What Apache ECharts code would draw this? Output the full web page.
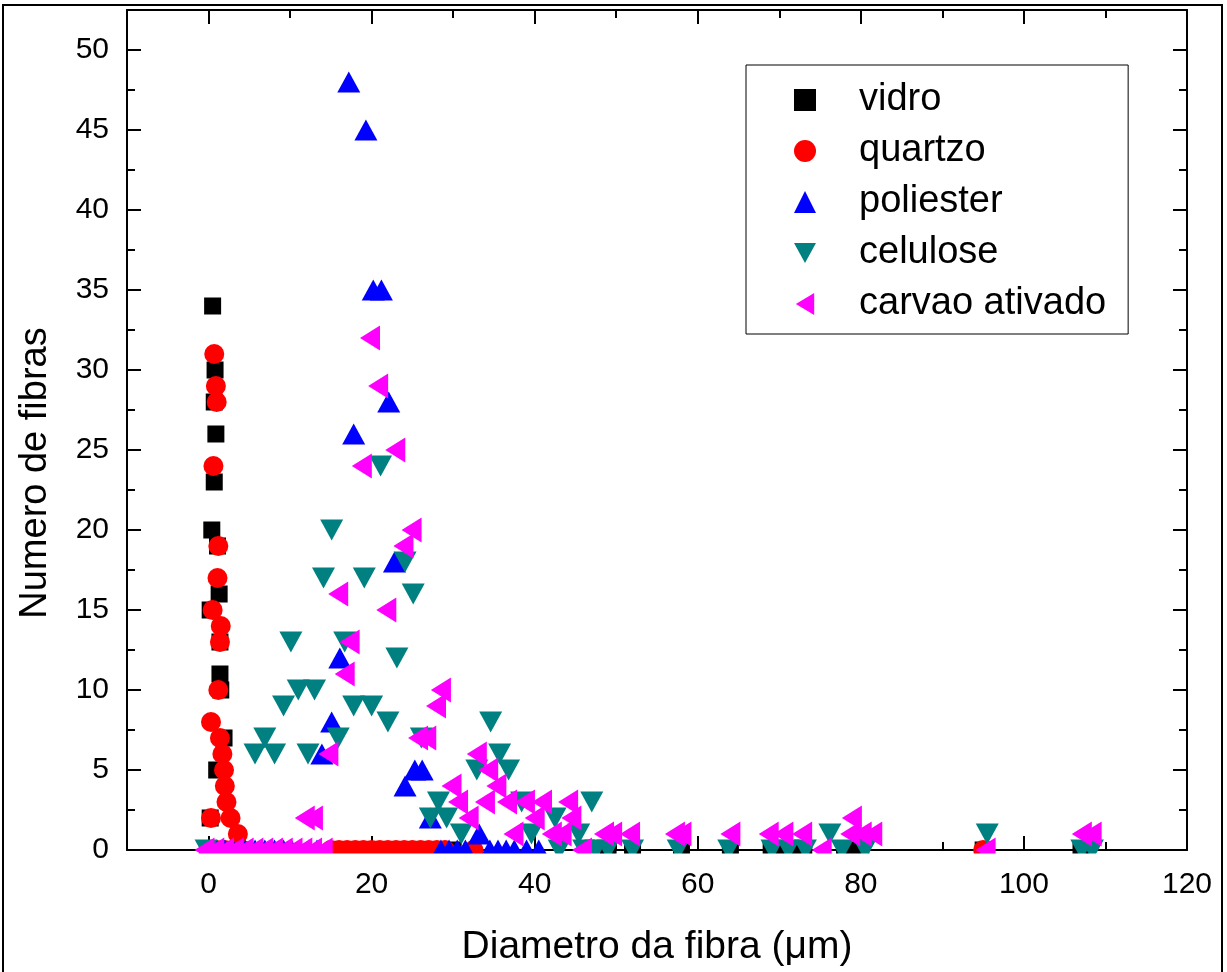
<!DOCTYPE html>
<html>
<head>
<meta charset="utf-8">
<script src="https://cdn.jsdelivr.net/npm/echarts@6/dist/echarts.min.js"></script>
<style>
  html, body { margin: 0; padding: 0; background: #fff; }
  #chart { width: 1227px; height: 972px; }
</style>
</head>
<body>
<div id="chart"></div>
<script>
// tick labels / names
const seriesNames = ['vidro', 'quartzo', 'poliester', 'celulose', 'carvao ativado'];

// vidro
const vidroX = [0.5, 0.8, 0.7, 0.9, 0.7, 0.4, 1.1, 1.3, 0.2, 1.4, 1.4, 1.5, 1.9, 1.0, 0.2,
  0, 1, 2, 3, 4, 16, 20, 30, 49, 52, 58, 64, 69, 71, 73, 78, 80, 95, 107];
const vidroY = [34, 30, 28, 26, 23, 20, 19, 16, 15, 13, 11, 10, 7, 5, 2,
  0, 0, 0, 0, 0, 0, 0, 0, 0, 0, 0, 0, 0, 0, 0, 0, 0, 0, 0];

// quartzo
const quartzoX = [0.7, 0.9, 1.0, 0.6, 1.2, 1.1, 0.5, 1.5, 1.4, 1.2, 0.3, 1.4, 1.7, 1.9, 2.0, 2.2, 0.3, 2.7, 3.6,
  0, 1, 2, 3, 4, 15, 16, 17, 18, 19, 20, 21, 22, 23, 24, 25, 26, 27, 28, 29, 32.5, 95];
const quartzoY = [31, 29, 28, 24, 19, 17, 15, 14, 13, 10, 8, 7, 6, 5, 4, 3, 2, 2, 1,
  0, 0, 0, 0, 0, 0, 0, 0, 0, 0, 0, 0, 0, 0, 0, 0, 0, 0, 0, 0, 0, 0];

// poliester
const poliesterX = [17.2, 19.3, 20.2, 21.2, 22.1, 17.8, 22.8, 16.1, 15.1, 13.9, 25.3, 26.2, 24.1, 27.2, 33.2,
  0, 1, 2, 3, 4.5, 5.7, 6.9, 8.1, 9.2, 10.2, 11.2, 12.3, 13.3, 28.5, 29.5, 30.5, 31.5, 34.5, 35.5, 36.5, 37.5, 39, 40.5];
const poliesterY = [48, 45, 35, 35, 28, 26, 18, 12, 8, 6, 5, 5, 4, 2, 1,
  0, 0, 0, 0, 0, 0, 0, 0, 0, 0, 0, 0, 0, 0, 0, 0, 0, 0, 0, 0, 0, 0, 0];

// celulose
const celuloseX = [21.1, 15.1, 14.1, 19.1, 24.1, 25.1, 10.1, 16.7, 23.1, 11.0, 13.0, 9.2, 17.8, 20.0, 22.0,
  15.9, 6.9, 5.7, 8.1, 12.2, 26.1, 28.2, 27.2, 29.2, 34.6, 35.7, 32.9, 36.8, 47.0, 31.0, 38.4, 42.5, 39.6, 45.4, 76.2, 95.5,
  -0.3, 43, 46, 47.5, 49, 52, 57.6, 63.8, 69.1, 71.1, 73.2, 77.7, 80.5, 107.1, 108.4];
const celuloseY = [24, 20, 17, 17, 18, 16, 13, 13, 12, 10, 10, 9, 9, 9, 8,
  7, 7, 6, 6, 6, 7, 3, 2, 2, 8, 6, 5, 5, 3, 1, 3, 2, 1, 1, 1, 1,
  0, 0, 0, 0, 0, 0, 0, 0, 0, 0, 0, 0, 0, 0, 0];

// carvao ativado
const carvaoX = [19.8, 20.8, 22.9, 18.8, 24.9, 23.9, 15.9, 21.8, 17.3, 16.7, 28.5, 27.9, 25.7, 26.7, 14.7, 11.8, 12.8,
  32.9, 34.3, 29.8, 35.3, 30.6, 33.9, 36.6, 38.8, 40.9, 44.1, 31.9, 40.0, 44.5, 37.4, 42.1, 43.3, 48.5, 49.5, 51.7,
  57.2, 58.0, 64.0, 68.7, 70.5, 72.8, 78.7, 80.1, 81.4, 78.9, 107.1, 108.3,
  -0.5, 0.7, 1.9, 3.1, 4.3, 5.5, 6.7, 7.9, 9.1, 10.3, 11.5, 12.7, 14.0, 45.8, 75.2, 95.3];
const carvaoY = [32, 29, 25, 24, 20, 19, 16, 15, 13, 11, 10, 9, 7, 7, 6, 2, 2,
  6, 5, 4, 4, 3, 3, 3, 3, 3, 3, 2, 2, 2, 1, 1, 1, 1, 1, 1,
  1, 1, 1, 1, 1, 1, 1, 1, 1, 2, 1, 1,
  0, 0, 0, 0, 0, 0, 0, 0, 0, 0, 0, 0, 0, 0, 0, 0];

const zip = (xs, ys) => xs.map((x, i) => [x, ys[i]]);

const FONT = 'Liberation Sans';
const downTri = 'path://M0,0 L10,0 L5,9 Z';
const leftTri = 'path://M0,6 L10,0 L10,12 Z';

const chart = echarts.init(document.getElementById('chart'), null, { renderer: 'canvas' });

const axisCommon = {
  axisLine: { show: true, onZero: false, lineStyle: { color: '#000', width: 2 } },
  axisTick: { show: true, inside: true, length: 14, lineStyle: { color: '#000', width: 2 } },
  minorTick: { show: true, splitNumber: 2, length: 8, lineStyle: { color: '#000', width: 2 } },
  splitLine: { show: false }
};

const option = {
  animation: false,
  backgroundColor: '#fff',
  textStyle: { fontFamily: FONT },
  graphic: [
    {
      type: 'rect',
      shape: { x: 3, y: 5, width: 1219, height: 1000 },
      style: { fill: 'none', stroke: '#000', lineWidth: 2 },
      silent: true, z: -10
    },
    // hides the lower half of markers sitting on y = 0, like the clipped original
    {
      type: 'rect',
      shape: { x: 110, y: 853.5, width: 1100, height: 13 },
      style: { fill: '#fff' },
      silent: true, z: 5
    },
    {
      type: 'text',
      x: 36, y: 473, rotation: Math.PI / 2,
      style: {
        text: 'Numero de fibras', fill: '#000',
        font: '38px "Liberation Sans"', align: 'center', verticalAlign: 'middle'
      },
      silent: true
    }
  ],
  grid: { left: 127, right: 40, top: 10, bottom: 120 },
  legend: {
    orient: 'vertical',
    left: 746, top: 65,
    padding: [16, 22, 11, 48],
    itemGap: 13,
    itemWidth: 22, itemHeight: 22,
    borderColor: '#000', borderWidth: 1,
    textStyle: { fontFamily: FONT, fontSize: 38, color: '#000', padding: [0, 0, 0, 38] },
    data: seriesNames
  },
  xAxis: [
    Object.assign({}, axisCommon, {
      type: 'value', min: -10, max: 120, splitNumber: 6, position: 'bottom',
      name: 'Diametro da fibra (\u03bcm)', nameLocation: 'middle', nameGap: 78,
      nameTextStyle: { fontFamily: FONT, fontSize: 39, color: '#000' },
      axisLabel: {
        fontFamily: FONT, fontSize: 30, color: '#000', margin: 20,
        formatter: v => (v < 0 ? '' : String(v))
      }
    }),
    Object.assign({}, axisCommon, {
      type: 'value', min: -10, max: 120, splitNumber: 6, position: 'top',
      axisLabel: { show: false }
    })
  ],
  yAxis: [
    Object.assign({}, axisCommon, {
      type: 'value', min: 0, max: 52.5, interval: 5, position: 'left',
      axisLabel: { fontFamily: FONT, fontSize: 30, color: '#000', margin: 18, showMaxLabel: false,
        formatter: v => (v > 50 ? '' : String(v)) }
    }),
    Object.assign({}, axisCommon, {
      type: 'value', min: 0, max: 52.5, interval: 5, position: 'right',
      axisLabel: { show: false }
    })
  ],
  series: [
    { name: seriesNames[0], type: 'scatter', symbol: 'rect', symbolSize: 17,
      itemStyle: { color: '#000000', opacity: 1 }, data: zip(vidroX, vidroY) },
    { name: seriesNames[1], type: 'scatter', symbol: 'circle', symbolSize: 20,
      itemStyle: { color: '#ff0000', opacity: 1 }, data: zip(quartzoX, quartzoY) },
    { name: seriesNames[2], type: 'scatter', symbol: 'triangle', symbolSize: [23, 21],
      itemStyle: { color: '#0000ff', opacity: 1 }, data: zip(poliesterX, poliesterY) },
    { name: seriesNames[3], type: 'scatter', symbol: downTri, symbolSize: [23, 21],
      itemStyle: { color: '#008080', opacity: 1 }, data: zip(celuloseX, celuloseY) },
    { name: seriesNames[4], type: 'scatter', symbol: leftTri, symbolSize: [20, 25],
      itemStyle: { color: '#ff00ff', opacity: 1 }, data: zip(carvaoX, carvaoY) }
  ]
};

chart.setOption(option);
</script>
</body>
</html>
